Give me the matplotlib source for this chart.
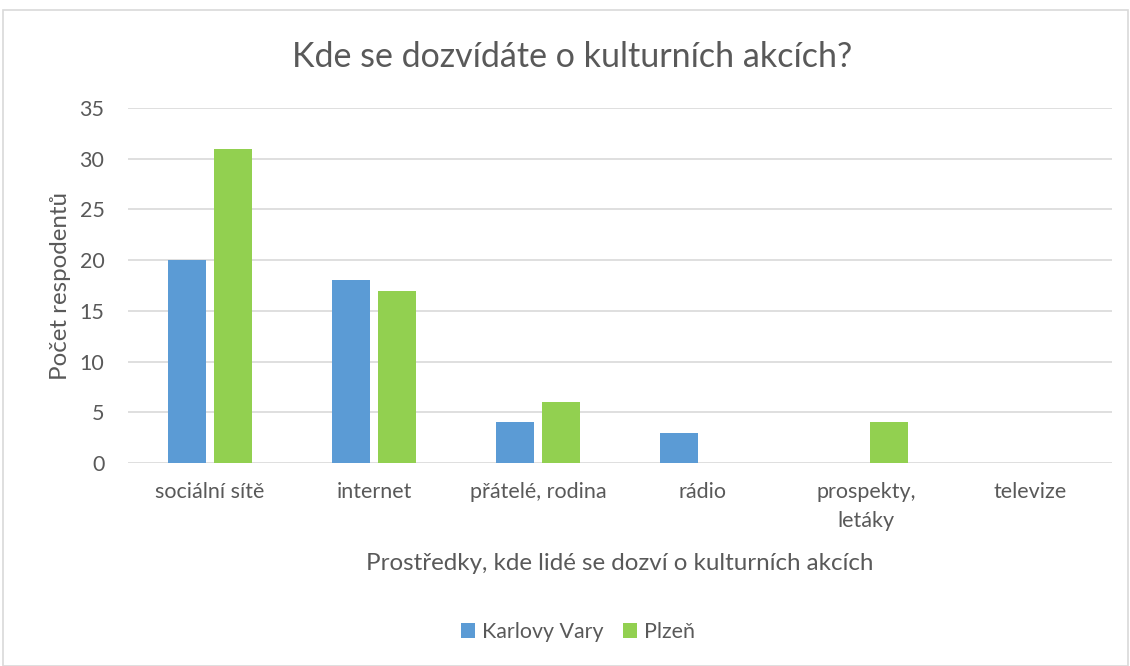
import matplotlib.pyplot as plt
import numpy as np
from matplotlib.patches import Rectangle

categories = ["sociální sítě", "internet", "přátelé, rodina", "rádio", "prospekty,\nletáky", "televize"]
karlovy_vary = [20, 18, 4, 3, 0, 0]
plzen = [31, 17, 6, 0, 4, 0]
yticks = [0, 5, 10, 15, 20, 25, 30, 35]

plt.rcParams['font.family'] = ['Lato', 'DejaVu Sans']
txt = '#595959'

W, H = 1130, 666
fig = plt.figure(figsize=(W / 100, H / 100), dpi=100)
ax = fig.add_axes([128 / W, 1 - 463 / H, (1112 - 128) / W, (463 - 108) / H])

x = np.arange(len(categories))
bw = 0.232
ax.bar(x - 0.14, karlovy_vary, bw, color='#5b9bd5', label='Karlovy Vary', zorder=3)
ax.bar(x + 0.14, plzen, bw, color='#92d050', label='Plzeň', zorder=3)

ax.set_xlim(-0.5, len(categories) - 0.5)
ax.set_ylim(0, 35)
ax.set_yticks(yticks)
ax.grid(axis='y', color='#d9d9d9', linewidth=1.2, zorder=0)
ax.set_xticks(x)
ax.set_xticklabels(categories, fontsize=15.5, color=txt, linespacing=1.55, va='top')
ax.tick_params(axis='y', labelsize=15.5, labelcolor=txt, length=0, pad=17)
ax.tick_params(axis='x', length=0, pad=14)
for s in ax.spines.values():
    s.set_visible(False)

ax.set_ylabel("Počet respodentů", fontsize=17.4, color=txt, labelpad=6)
ax.set_xlabel("Prostředky, kde lidé se dozví o kulturních akcích", fontsize=17.4, color=txt, labelpad=16)

fig.text(572 / W, 1 - 57 / H, "Kde se dozvídáte o kulturních akcích?", fontsize=24.5, color=txt,
         ha='center', va='center')

fig.legend(loc='center', bbox_to_anchor=(578 / W, 1 - 632 / H), ncol=2, frameon=False,
           fontsize=15.4, labelcolor=txt, handlelength=0.65, handleheight=0.65,
           handletextpad=0.35, columnspacing=0.9)

fig.patches.append(Rectangle((3 / W, 0), (1125) / W, 1 - 10 / H, transform=fig.transFigure,
                             fill=False, edgecolor='#d9d9d9', linewidth=1.2))

fig.savefig("out.png", dpi=100)
